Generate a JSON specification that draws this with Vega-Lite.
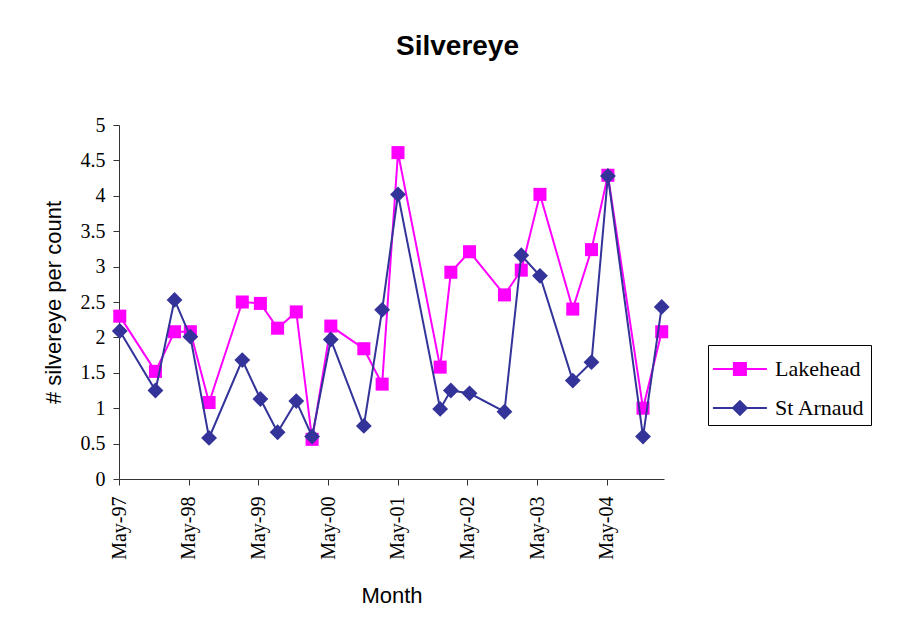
{
  "$schema": "https://vega.github.io/schema/vega-lite/v6.json",
  "autosize": {"type": "none"},
  "width": 545,
  "height": 354,
  "padding": {"left": 119, "top": 125, "right": 235, "bottom": 147},
  "background": "white",
  "title": {
    "text": "Silvereye",
    "font": "Liberation Sans",
    "fontSize": 28,
    "fontWeight": "bold",
    "color": "black",
    "anchor": "middle",
    "frame": "group",
    "baseline": "alphabetic",
    "dx": 66,
    "offset": 32
  },
  "datasets": {
    "counts": [
      {"date": "1997-05-05", "series": "Lakehead", "value": 2.30},
      {"date": "1997-11-08", "series": "Lakehead", "value": 1.52},
      {"date": "1998-02-16", "series": "Lakehead", "value": 2.08},
      {"date": "1998-05-10", "series": "Lakehead", "value": 2.08},
      {"date": "1998-08-16", "series": "Lakehead", "value": 1.08},
      {"date": "1999-02-06", "series": "Lakehead", "value": 2.50},
      {"date": "1999-05-12", "series": "Lakehead", "value": 2.48},
      {"date": "1999-08-10", "series": "Lakehead", "value": 2.13},
      {"date": "1999-11-16", "series": "Lakehead", "value": 2.36},
      {"date": "2000-02-07", "series": "Lakehead", "value": 0.56},
      {"date": "2000-05-15", "series": "Lakehead", "value": 2.16},
      {"date": "2000-11-04", "series": "Lakehead", "value": 1.84},
      {"date": "2001-02-08", "series": "Lakehead", "value": 1.34},
      {"date": "2001-05-02", "series": "Lakehead", "value": 4.61},
      {"date": "2001-12-09", "series": "Lakehead", "value": 1.58},
      {"date": "2002-02-03", "series": "Lakehead", "value": 2.92},
      {"date": "2002-05-12", "series": "Lakehead", "value": 3.21},
      {"date": "2002-11-11", "series": "Lakehead", "value": 2.60},
      {"date": "2003-02-07", "series": "Lakehead", "value": 2.95},
      {"date": "2003-05-16", "series": "Lakehead", "value": 4.02},
      {"date": "2003-11-04", "series": "Lakehead", "value": 2.40},
      {"date": "2004-02-10", "series": "Lakehead", "value": 3.24},
      {"date": "2004-05-06", "series": "Lakehead", "value": 4.29},
      {"date": "2004-11-06", "series": "Lakehead", "value": 1.00},
      {"date": "2005-02-12", "series": "Lakehead", "value": 2.08},
      {"date": "1997-05-05", "series": "St Arnaud", "value": 2.09},
      {"date": "1997-11-08", "series": "St Arnaud", "value": 1.25},
      {"date": "1998-02-16", "series": "St Arnaud", "value": 2.53},
      {"date": "1998-05-10", "series": "St Arnaud", "value": 2.01},
      {"date": "1998-08-16", "series": "St Arnaud", "value": 0.58},
      {"date": "1999-02-06", "series": "St Arnaud", "value": 1.68},
      {"date": "1999-05-12", "series": "St Arnaud", "value": 1.13},
      {"date": "1999-08-10", "series": "St Arnaud", "value": 0.66},
      {"date": "1999-11-16", "series": "St Arnaud", "value": 1.10},
      {"date": "2000-02-07", "series": "St Arnaud", "value": 0.60},
      {"date": "2000-05-15", "series": "St Arnaud", "value": 1.97},
      {"date": "2000-11-04", "series": "St Arnaud", "value": 0.75},
      {"date": "2001-02-08", "series": "St Arnaud", "value": 2.39},
      {"date": "2001-05-02", "series": "St Arnaud", "value": 4.02},
      {"date": "2001-12-09", "series": "St Arnaud", "value": 0.99},
      {"date": "2002-02-03", "series": "St Arnaud", "value": 1.25},
      {"date": "2002-05-12", "series": "St Arnaud", "value": 1.21},
      {"date": "2002-11-11", "series": "St Arnaud", "value": 0.95},
      {"date": "2003-02-07", "series": "St Arnaud", "value": 3.16},
      {"date": "2003-05-16", "series": "St Arnaud", "value": 2.87},
      {"date": "2003-11-04", "series": "St Arnaud", "value": 1.39},
      {"date": "2004-02-10", "series": "St Arnaud", "value": 1.65},
      {"date": "2004-05-06", "series": "St Arnaud", "value": 4.28},
      {"date": "2004-11-06", "series": "St Arnaud", "value": 0.60},
      {"date": "2005-02-12", "series": "St Arnaud", "value": 2.43}
    ]
  },
  "data": {"name": "counts"},
  "encoding": {
    "x": {
      "field": "date",
      "type": "temporal",
      "scale": {
        "domain": [
          {"year": 1997, "month": 5, "date": 1, "utc": true},
          {"year": 2005, "month": 2, "date": 24, "utc": true}
        ],
        "nice": false
      },
      "axis": {
        "title": "Month",
        "values": [
          {"year": 1997, "month": 5, "date": 1, "utc": true},
          {"year": 1998, "month": 5, "date": 1, "utc": true},
          {"year": 1999, "month": 5, "date": 1, "utc": true},
          {"year": 2000, "month": 5, "date": 1, "utc": true},
          {"year": 2001, "month": 5, "date": 1, "utc": true},
          {"year": 2002, "month": 5, "date": 1, "utc": true},
          {"year": 2003, "month": 5, "date": 1, "utc": true},
          {"year": 2004, "month": 5, "date": 1, "utc": true}
        ],
        "labelExpr": "utcFormat(datum.value, '%b') + '-' + utcFormat(datum.value, '%y')",
        "labelAngle": 270,
        "labelPadding": 11,
        "titleY": 106,
        "titleBaseline": "top"
      }
    },
    "y": {
      "field": "value",
      "type": "quantitative",
      "scale": {"domain": [0, 5], "nice": false},
      "axis": {
        "title": "# silvereye per count",
        "values": [0, 0.5, 1, 1.5, 2, 2.5, 3, 3.5, 4, 4.5, 5],
        "format": "~g",
        "labelPadding": 8,
        "titleX": -54,
        "titleY": 177,
        "titleBaseline": "bottom",
        "titleAngle": 270
      }
    }
  },
  "layer": [
    {
      "transform": [{"filter": "datum.series === 'Lakehead'"}],
      "mark": {"type": "line", "color": "#FF00FF", "strokeWidth": 2}
    },
    {
      "transform": [{"filter": "datum.series === 'Lakehead'"}],
      "mark": {"type": "point", "shape": "square", "filled": true, "size": 170, "color": "#FF00FF", "opacity": 1}
    },
    {
      "transform": [{"filter": "datum.series === 'St Arnaud'"}],
      "mark": {"type": "line", "color": "#333399", "strokeWidth": 2}
    },
    {
      "transform": [{"filter": "datum.series === 'St Arnaud'"}],
      "mark": {"type": "point", "shape": "diamond", "filled": true, "size": 250, "color": "#333399", "opacity": 1}
    },
    {
      "transform": [{"filter": "datum.series === 'none'"}],
      "mark": {"type": "point", "filled": true, "opacity": 1},
      "encoding": {
        "color": {
          "field": "series",
          "type": "nominal",
          "scale": {"domain": ["Lakehead", "St Arnaud"], "range": ["#FF00FF", "#333399"]},
          "legend": {
            "title": null,
            "orient": "none",
            "legendX": 589,
            "legendY": 220,
            "symbolSize": 1296,
            "symbolStrokeWidth": 0,
            "labelFont": "Liberation Serif",
            "labelFontSize": 22,
            "labelColor": "black",
            "labelOffset": 25,
            "rowPadding": 10,
            "padding": 6,
            "strokeColor": "black",
            "fillColor": "white"
          }
        },
        "shape": {
          "field": "series",
          "type": "nominal",
          "scale": {
            "domain": ["Lakehead", "St Arnaud"],
            "range": [
              "M-1.06,-0.055H1.94V0.055H-1.06Z M0.05,-0.39H0.83V0.39H0.05Z",
              "M-1.06,-0.055H1.94V0.055H-1.06Z M0.44,-0.46L0.9,0L0.44,0.46L-0.02,0Z"
            ]
          }
        }
      }
    }
  ],
  "config": {
    "view": {"stroke": null},
    "axis": {
      "grid": false,
      "domainColor": "#333333",
      "tickColor": "#333333",
      "tickSize": 6,
      "labelFont": "Liberation Serif",
      "labelFontSize": 20,
      "labelColor": "black",
      "labelFlush": false,
      "labelOverlap": false,
      "titleFont": "Liberation Sans",
      "titleFontSize": 22,
      "titleFontWeight": "normal",
      "titleColor": "black"
    }
  }
}
